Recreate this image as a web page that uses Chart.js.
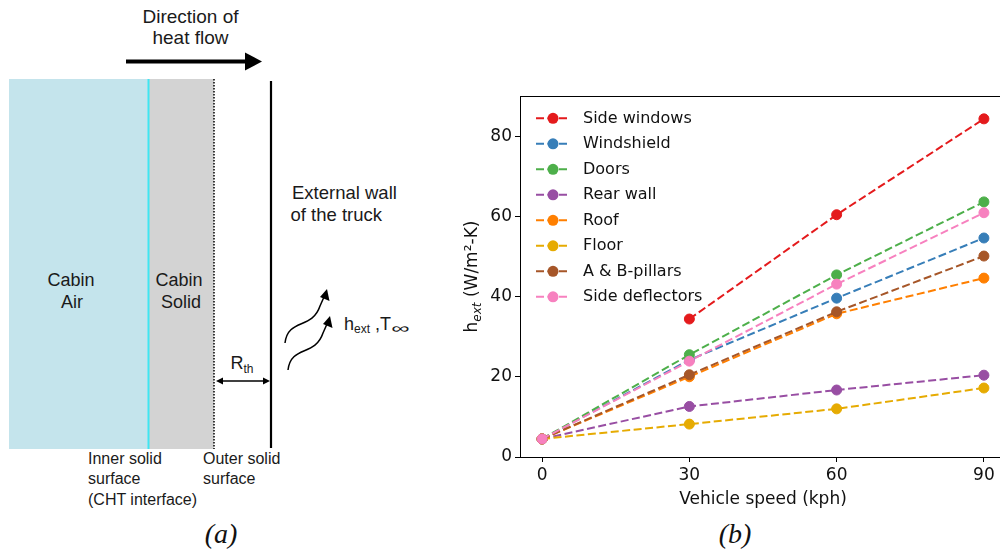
<!DOCTYPE html>
<html>
<head>
<meta charset="utf-8">
<script src="https://cdn.jsdelivr.net/npm/chart.js@4.4.0/dist/chart.umd.min.js"></script>
<style>
  html, body { margin: 0; padding: 0; background: #fff; overflow: hidden; }
  body { width: 1000px; height: 552px; position: relative; }
  #diagram { position: absolute; left: 0; top: 0; }
  #diagram text { font-family: "Liberation Sans", Arial, sans-serif; fill: #1a1a1a; }
  #chartBox { position: absolute; left: 440px; top: 80px; width: 580px; height: 440px; }
  .panel { position: absolute; top: 518px; font-family: "Liberation Serif", serif;
           font-style: italic; font-size: 28px; color: #111; transform: translateX(-50%); }
</style>
</head>
<body>
<svg id="diagram" width="460" height="552">
  <rect x="9" y="79" width="140" height="370" fill="#c4e4ec"/>
  <rect x="149" y="79" width="65" height="370" fill="#d3d3d3"/>
  <line x1="148.5" y1="79" x2="148.5" y2="449" stroke="#3ee6f2" stroke-width="2"/>
  <line x1="214" y1="79" x2="214" y2="449" stroke="#000" stroke-width="1.5" stroke-dasharray="1.5 1.5"/>
  <line x1="271" y1="81" x2="271" y2="448" stroke="#000" stroke-width="2.2"/>
  <!-- heat flow arrow -->
  <line x1="126" y1="61.5" x2="248" y2="61.5" stroke="#000" stroke-width="4"/>
  <polygon points="245,52.5 262,61.5 245,70.5" fill="#000"/>
  <text x="190.5" y="23" font-size="19" text-anchor="middle">Direction of</text>
  <text x="190.5" y="44" font-size="19" text-anchor="middle">heat flow</text>
  <!-- region labels -->
  <text x="71" y="286" font-size="18" text-anchor="middle">Cabin</text>
  <text x="72" y="308" font-size="18" text-anchor="middle">Air</text>
  <text x="179" y="286" font-size="18" text-anchor="middle">Cabin</text>
  <text x="181" y="308" font-size="18" text-anchor="middle">Solid</text>
  <text x="292" y="199" font-size="18.5">External wall</text>
  <text x="290.5" y="221" font-size="18.5">of the truck</text>
  <!-- R_th -->
  <text x="230.5" y="369" font-size="18">R<tspan font-size="12" dy="4">th</tspan></text>
  <line x1="220" y1="381" x2="266" y2="381" stroke="#000" stroke-width="1.3"/>
  <polygon points="216,381 223,377.5 223,384.5" fill="#000"/>
  <polygon points="270,381 263,377.5 263,384.5" fill="#000"/>
  <!-- convective arrows -->
  <path d="M285,343 C288,318 312,330 320,306 L324,297" fill="none" stroke="#000" stroke-width="1.5"/>
  <polygon points="327,289 329.5,301 320,297" fill="#000"/>
  <path d="M288,370 C291,345 315,357 323,333 L327,324" fill="none" stroke="#000" stroke-width="1.5"/>
  <polygon points="330,316 332.5,328 323,324" fill="#000"/>
  <text x="344" y="330" font-size="18">h<tspan font-size="12" dy="3">ext</tspan><tspan dy="-3"> ,T</tspan><tspan font-size="14" dy="3" textLength="18" lengthAdjust="spacingAndGlyphs">∞</tspan></text>
  <!-- surface labels -->
  <text x="88" y="464" font-size="16">Inner solid</text>
  <text x="88" y="484" font-size="16">surface</text>
  <text x="88" y="505" font-size="16">(CHT interface)</text>
  <text x="203" y="464" font-size="16">Outer solid</text>
  <text x="203" y="484" font-size="16">surface</text>
</svg>
<div class="panel" style="left:221px">(a)</div>
<div class="panel" style="left:735px">(b)</div>
<div id="chartBox"><canvas id="hChart"></canvas></div>
<script>
const speeds = [0, 30, 60, 90];
const xTicks = [0, 30, 60, 90];
const yTicks = [0, 20, 40, 60, 80];

const seriesNames = ['Side windows', 'Windshield', 'Doors', 'Rear wall', 'Roof', 'Floor', 'A & B-pillars', 'Side deflectors'];
const seriesColors = ['#e41a1c', '#377eb8', '#4daf4a', '#984ea3', '#ff7f00', '#e6ab02', '#a65628', '#f781bf'];

const sideWindows = [null, 34.4, 60.4, 84.3];
const windshield = [4.5, 24.2, 39.6, 54.6];
const doors = [4.5, 25.5, 45.4, 63.6];
const rearWall = [4.5, 12.6, 16.7, 20.4];
const roof = [4.5, 20.0, 35.7, 44.6];
const floor = [4.5, 8.2, 12.0, 17.2];
const pillars = [4.5, 20.5, 36.2, 50.1];
const deflectors = [4.5, 23.9, 43.1, 60.9];

const seriesValues = [sideWindows, windshield, doors, rearWall, roof, floor, pillars, deflectors];

const datasets = seriesNames.map(function (name, i) {
    return {
        label: name,
        data: speeds.map(function (s, j) { return { x: s, y: seriesValues[i][j] }; }),
        borderColor: seriesColors[i],
        backgroundColor: seriesColors[i],
        pointBackgroundColor: seriesColors[i],
        pointBorderColor: seriesColors[i],
        borderWidth: 2,
        borderDash: [8, 3.5],
        pointRadius: 5,
        pointBorderWidth: 1,
        tension: 0,
        order: seriesNames.length - i
    };
});

const FONT = 'DejaVu Sans';

// spines, axis titles and the legend (matplotlib style)
const decorPlugin = {
    id: 'decor',
    afterDraw(chart) {
        const ctx = chart.ctx;
        const a = chart.chartArea;
        ctx.save();
        ctx.strokeStyle = '#000';
        ctx.lineWidth = 1;
        ctx.beginPath();
        ctx.moveTo(a.left, a.top + 0.5);
        ctx.lineTo(a.right, a.top + 0.5);
        ctx.moveTo(a.right - 0.5, a.top);
        ctx.lineTo(a.right - 0.5, a.bottom);
        ctx.stroke();

        // x title
        ctx.fillStyle = '#111';
        ctx.font = '17px "' + FONT + '"';
        ctx.textAlign = 'center';
        ctx.textBaseline = 'alphabetic';
        ctx.fillText('Vehicle speed (kph)', (a.left + a.right) / 2, a.bottom + 47);

        // y title with subscript
        const main = '17px "' + FONT + '"';
        const sub = 'italic 12px "' + FONT + '"';
        ctx.font = main;
        const w1 = ctx.measureText('h').width;
        const w3 = ctx.measureText(' (W/m\u00b2-K)').width;
        ctx.font = sub;
        const w2 = ctx.measureText('ext').width;
        const total = w1 + w2 + w3;
        ctx.translate(a.left - 43, (a.top + a.bottom) / 2);
        ctx.rotate(-Math.PI / 2);
        ctx.textAlign = 'left';
        let x = -total / 2;
        ctx.font = main;
        ctx.fillText('h', x, 0);
        x += w1;
        ctx.font = sub;
        ctx.fillText('ext', x, 4);
        x += w2;
        ctx.font = main;
        ctx.fillText(' (W/m\u00b2-K)', x, 0);
        ctx.setTransform(1, 0, 0, 1, 0, 0);
        ctx.restore();

        // legend
        ctx.save();
        chart.data.datasets.forEach(function (ds, i) {
            const y = a.top + 22.3 + i * 25.5;
            const x0 = a.left + 16;
            ctx.strokeStyle = ds.borderColor;
            ctx.lineWidth = 2;
            ctx.setLineDash([8, 3.5]);
            ctx.beginPath();
            ctx.moveTo(x0, y);
            ctx.lineTo(x0 + 34, y);
            ctx.stroke();
            ctx.setLineDash([]);
            ctx.fillStyle = ds.borderColor;
            ctx.beginPath();
            ctx.arc(x0 + 17, y, 5.5, 0, Math.PI * 2);
            ctx.fill();
            ctx.fillStyle = '#111';
            ctx.font = '16px "' + FONT + '"';
            ctx.textAlign = 'left';
            ctx.textBaseline = 'middle';
            ctx.fillText(ds.label, x0 + 47, y + 0.5);
        });
        ctx.restore();
    }
};

const ctx = document.getElementById('hChart').getContext('2d');
new Chart(ctx, {
    type: 'line',
    data: { datasets: datasets },
    options: {
        responsive: true,
        maintainAspectRatio: false,
        animation: false,
        layout: { padding: { left: 0, top: 16, right: 14, bottom: 0 } },
        plugins: {
            legend: { display: false },
            tooltip: { enabled: false }
        },
        scales: {
            x: {
                type: 'linear',
                min: -4.5,
                max: 94.5,
                afterBuildTicks: function (scale) {
                    scale.ticks = xTicks.map(function (v) { return { value: v }; });
                },
                afterFit: function (scale) { scale.height = 63; },
                ticks: {
                    color: '#111',
                    padding: 3,
                    maxRotation: 0,
                    font: { family: FONT, size: 17 },
                    callback: function (v) { return String(v); }
                },
                grid: { drawOnChartArea: false, drawTicks: true, tickLength: 5, color: '#000' },
                border: { display: true, color: '#000', width: 1 }
            },
            y: {
                type: 'linear',
                min: 0,
                max: 90,
                afterBuildTicks: function (scale) {
                    scale.ticks = yTicks.map(function (v) { return { value: v }; });
                },
                afterFit: function (scale) { scale.width = 80; },
                ticks: {
                    color: '#111',
                    padding: 3,
                    font: { family: FONT, size: 17 },
                    callback: function (v) { return String(v); }
                },
                grid: { drawOnChartArea: false, drawTicks: true, tickLength: 5, color: '#000' },
                border: { display: true, color: '#000', width: 1 }
            }
        }
    },
    plugins: [decorPlugin]
});
</script>
</body>
</html>
